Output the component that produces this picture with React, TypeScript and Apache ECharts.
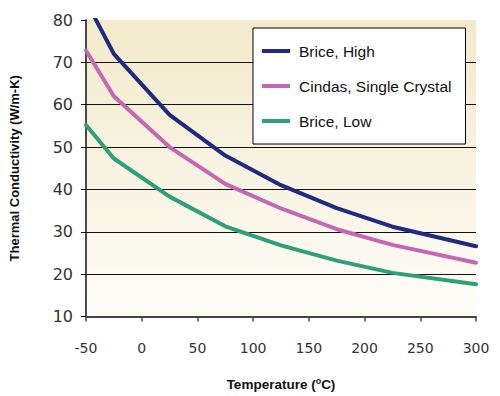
import React, { useEffect, useRef } from "react";
import * as echarts from "echarts";

const temps = [-50, -25, 25, 75, 125, 175, 225, 300];
const briceHigh = [84.5, 72, 57.6, 48, 41, 35.6, 31.2, 26.6];
const cindas = [72.8, 62, 50, 41.3, 35.5, 30.6, 26.9, 22.7];
const briceLow = [55.2, 47.3, 38.3, 31.3, 26.8, 23.2, 20.3, 17.6];
const seriesNames = ["Brice, High", "Cindas, Single Crystal", "Brice, Low"];
const seriesColors = ["#1f2a80", "#c766b4", "#2f9f79"];
const xTicks = [-50, 300, 50];
const yTicks = [10, 80, 10];

const FONT = "Liberation Sans, Arial, sans-serif";
const NUMFONT = "DejaVu Sans, sans-serif";

export default function App() {
  const ref = useRef<HTMLDivElement>(null);
  useEffect(() => {
    if (!ref.current) return;
    const chart = echarts.init(ref.current, null, { renderer: "svg" });
    const values = [briceHigh, cindas, briceLow];
    chart.setOption({
      animation: false,
      backgroundColor: "#ffffff",
      textStyle: { fontFamily: FONT },
      grid: {
        left: 82,
        right: 24,
        top: 20,
        bottom: 74,
        show: true,
        borderWidth: 0,
        backgroundColor: new echarts.graphic.LinearGradient(0, 0, 0, 1, [
          { offset: 0, color: "#f2eacb" },
          { offset: 1, color: "#fefdf8" },
        ]),
      },
      legend: {
        orient: "vertical",
        left: 253,
        top: 28,
        padding: [15, 14, 15, 9],
        backgroundColor: "#ffffff",
        borderColor: "#000000",
        borderWidth: 1,
        borderRadius: 0,
        icon: "rect",
        itemWidth: 28,
        itemHeight: 4,
        itemGap: 19,
        data: seriesNames,
        textStyle: {
          fontFamily: FONT,
          fontSize: 15.5,
          color: "#111",
          lineHeight: 16,
          padding: [0, 0, 0, 4],
        },
      },
      xAxis: {
        type: "value",
        min: xTicks[0],
        max: xTicks[1],
        interval: xTicks[2],
        name: "Temperature ({sup|o}C)",
        nameLocation: "middle",
        nameGap: 60,
        nameTextStyle: {
          fontFamily: FONT,
          fontSize: 13.5,
          fontWeight: "bold",
          color: "#111",
          rich: {
            sup: { fontSize: 9, fontWeight: "bold", verticalAlign: "top", padding: [0, 0, 6, 0], color: "#111" },
          },
        },
        axisLine: { show: true, onZero: false, lineStyle: { color: "#444", width: 2 } },
        axisTick: { show: true, length: 5, lineStyle: { color: "#444", width: 1.5 } },
        axisLabel: { fontFamily: NUMFONT, fontSize: 14, color: "#333", margin: 24 },
        splitLine: { show: false },
      },
      yAxis: {
        type: "value",
        min: yTicks[0],
        max: yTicks[1],
        interval: yTicks[2],
        name: "Thermal Conductivity (W/m-K)",
        nameLocation: "middle",
        nameGap: 65,
        nameTextStyle: { fontFamily: FONT, fontSize: 13, fontWeight: "bold", color: "#111" },
        axisLine: { show: true, onZero: false, lineStyle: { color: "#111", width: 1.5 } },
        axisTick: { show: true, length: 5, lineStyle: { color: "#111", width: 1 } },
        axisLabel: { fontFamily: NUMFONT, fontSize: 16, color: "#333", margin: 13 },
        splitLine: { show: true, showMaxLine: false, showMinLine: false, lineStyle: { color: "#111", width: 1 } },
      },
      series: seriesNames.map((n, i) => ({
        name: n,
        type: "line",
        data: temps.map((t, j) => [t, values[i][j]]),
        showSymbol: false,
        symbol: "none",
        clip: true,
        color: seriesColors[i],
        lineStyle: { color: seriesColors[i], width: 4, cap: "round", join: "round" },
        z: 3 - i,
      })),
    });
    return () => chart.dispose();
  }, []);
  return (
    <div
      ref={ref}
      style={{ position: "fixed", left: 0, top: 0, width: 500, height: 396 }}
    />
  );
}
